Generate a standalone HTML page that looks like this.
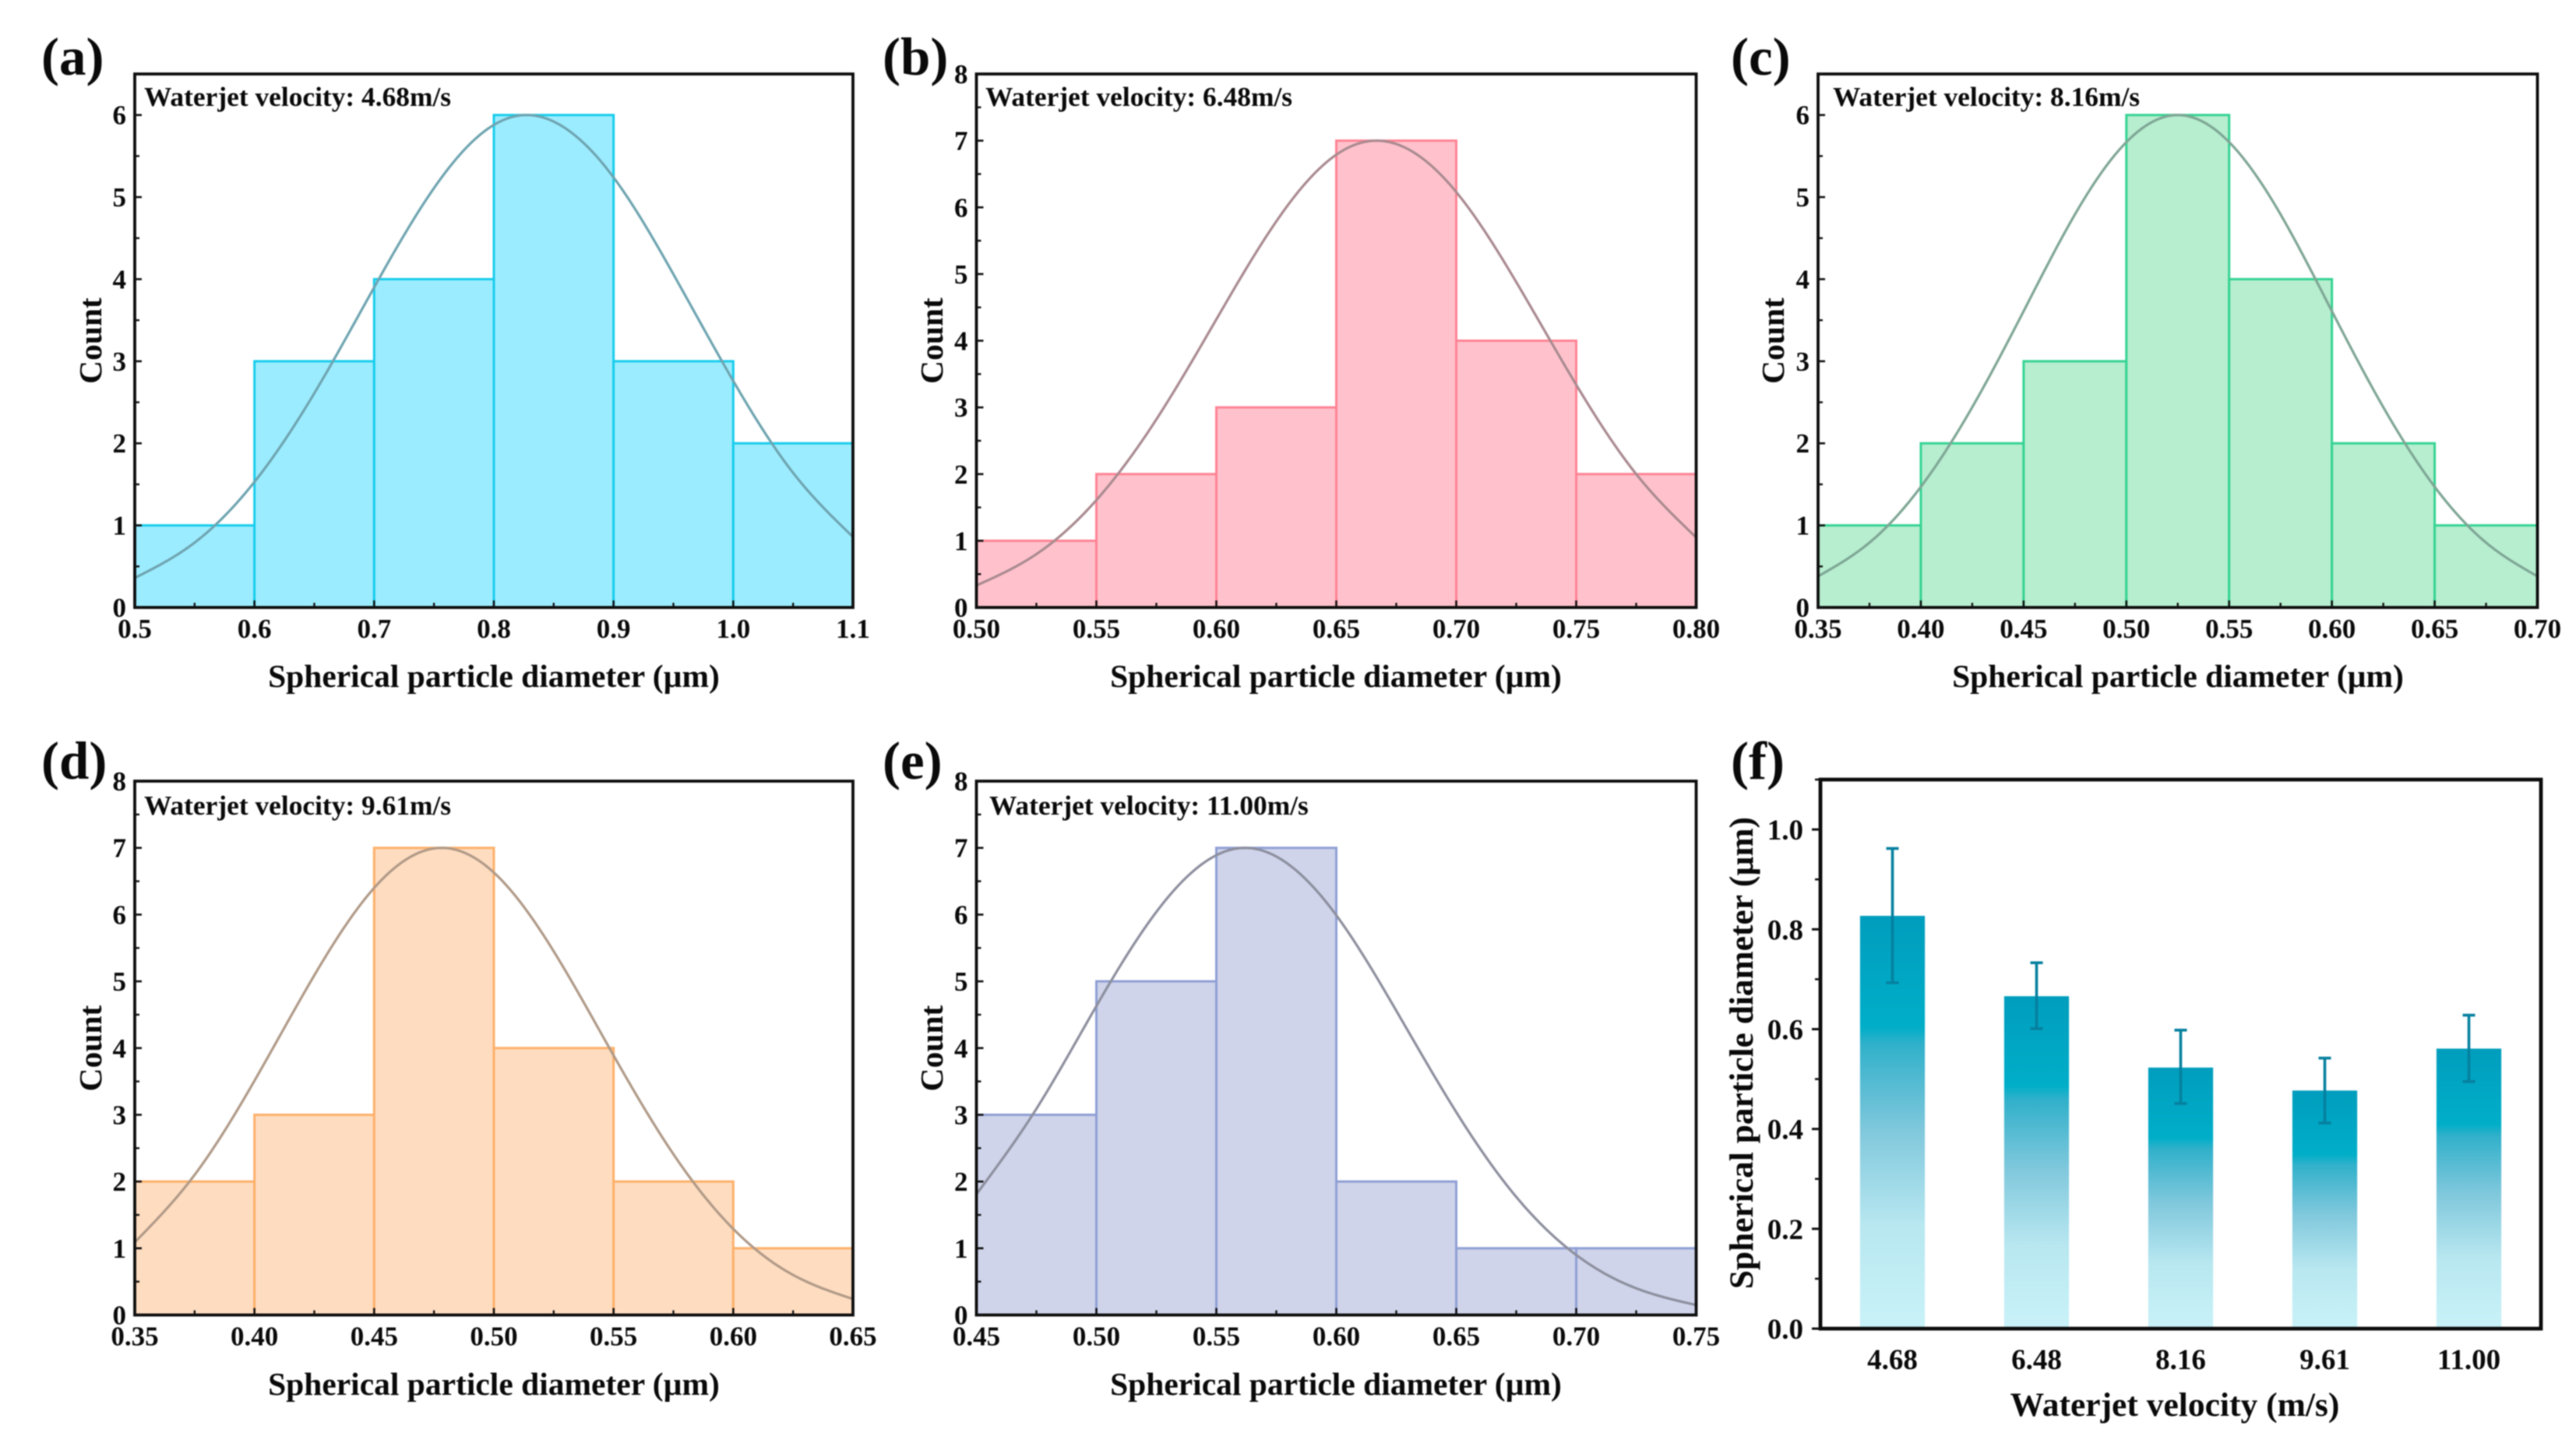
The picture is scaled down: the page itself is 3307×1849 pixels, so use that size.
<!DOCTYPE html>
<html lang="en">
<head>
<meta charset="utf-8">
<title>Spherical particle diameter histograms by waterjet velocity</title>
<style>
  html, body { margin: 0; padding: 0; background: #fff; }
  svg { display: block; filter: blur(0.9px); }
  text { font-family: "Liberation Serif", serif; font-weight: bold; fill: #0a0a0a; }
  .panel-label { font-size: 69px; }
  .axis-title { font-size: 41.5px; text-anchor: middle; }
  .note { font-size: 35.4px; }
  .tick-label { font-size: 35px; }
  .tick-label-f { font-size: 37px; }
</style>
</head>
<body>
<svg id="figure" xmlns="http://www.w3.org/2000/svg" width="3307" height="1849" viewBox="0 0 3307 1849">
  <defs>
    <linearGradient id="barGradient" x1="0" y1="0" x2="0" y2="1">
      <stop offset="0" stop-color="#009dbd"/>
      <stop offset="0.27" stop-color="#00aec8"/>
      <stop offset="0.31" stop-color="#30b0ca"/>
      <stop offset="0.52" stop-color="#80c8dc"/>
      <stop offset="0.75" stop-color="#b8e7f0"/>
      <stop offset="1" stop-color="#c9f2f8"/>
    </linearGradient>
  </defs>

  <g id="panel-a">
    <text class="panel-label" x="53" y="96">(a)</text>
    <text class="note" x="185" y="136">Waterjet velocity: 4.68m/s</text>
    <text class="axis-title" x="634" y="882">Spherical particle diameter (µm)</text>
    <text class="axis-title" transform="translate(130 437.5) rotate(-90)">Count</text>
  </g>
  <g id="panel-b">
    <text class="panel-label" x="1133" y="96">(b)</text>
    <text class="note" x="1265" y="136">Waterjet velocity: 6.48m/s</text>
    <text class="axis-title" x="1715" y="882">Spherical particle diameter (µm)</text>
    <text class="axis-title" transform="translate(1210 437.5) rotate(-90)">Count</text>
  </g>
  <g id="panel-c">
    <text class="panel-label" x="2222" y="96">(c)</text>
    <text class="note" x="2353" y="136">Waterjet velocity: 8.16m/s</text>
    <text class="axis-title" x="2796" y="882">Spherical particle diameter (µm)</text>
    <text class="axis-title" transform="translate(2290 437.5) rotate(-90)">Count</text>
  </g>
  <g id="panel-d">
    <text class="panel-label" x="53" y="1000">(d)</text>
    <text class="note" x="185" y="1046">Waterjet velocity: 9.61m/s</text>
    <text class="axis-title" x="634" y="1791">Spherical particle diameter (µm)</text>
    <text class="axis-title" transform="translate(130 1346) rotate(-90)">Count</text>
  </g>
  <g id="panel-e">
    <text class="panel-label" x="1133" y="1000">(e)</text>
    <text class="note" x="1270" y="1046">Waterjet velocity: 11.00m/s</text>
    <text class="axis-title" x="1715" y="1791">Spherical particle diameter (µm)</text>
    <text class="axis-title" transform="translate(1210 1346) rotate(-90)">Count</text>
  </g>
  <g id="panel-f">
    <text class="panel-label" x="2222" y="1000">(f)</text>
    <text class="axis-title" style="font-size:43.5px" x="2792" y="1818">Waterjet velocity (m/s)</text>
    <text class="axis-title" style="font-size:43.4px" transform="translate(2250 1352) rotate(-90)">Spherical particle diameter (µm)</text>
  </g>
</svg>

<script>
// ---- Panel (a) ----
const aBinEdges = [0.5, 0.6, 0.7, 0.8, 0.9, 1.0, 1.1];
const aCounts = [1, 3, 4, 6, 3, 2];
const aCurveX = [0.5, 0.55, 0.6, 0.65, 0.7, 0.75, 0.8, 0.828, 0.85, 0.9, 0.95, 1.0, 1.05, 1.1];
const aCurveY = [0.36, 0.79, 1.53, 2.61, 3.90, 5.11, 5.88, 6, 5.92, 5.24, 4.06, 2.76, 1.64, 0.86];
const aXLabels = ["0.5", "0.6", "0.7", "0.8", "0.9", "1.0", "1.1"];
const aYLabels = ["0", "1", "2", "3", "4", "5", "6"];

// ---- Panel (b) ----
const bBinEdges = [0.50, 0.55, 0.60, 0.65, 0.70, 0.75, 0.80];
const bCounts = [1, 2, 3, 7, 4, 2];
const bCurveX = [0.5, 0.525, 0.55, 0.575, 0.6, 0.625, 0.65, 0.667, 0.675, 0.7, 0.725, 0.75, 0.775, 0.8];
const bCurveY = [0.33, 0.80, 1.61, 2.82, 4.32, 5.79, 6.79, 7, 6.95, 6.23, 4.88, 3.34, 2.00, 1.05];
const bXLabels = ["0.50", "0.55", "0.60", "0.65", "0.70", "0.75", "0.80"];
const bYLabels = ["0", "1", "2", "3", "4", "5", "6", "7", "8"];

// ---- Panel (c) ----
const cBinEdges = [0.35, 0.40, 0.45, 0.50, 0.55, 0.60, 0.65, 0.70];
const cCounts = [1, 2, 3, 6, 4, 2, 1];
const cCurveX = [0.35, 0.375, 0.4, 0.425, 0.45, 0.475, 0.5, 0.525, 0.55, 0.575, 0.6, 0.625, 0.65, 0.675, 0.7];
const cCurveY = [0.38, 0.79, 1.47, 2.44, 3.61, 4.79, 5.67, 6, 5.67, 4.79, 3.61, 2.44, 1.47, 0.79, 0.38];
const cXLabels = ["0.35", "0.40", "0.45", "0.50", "0.55", "0.60", "0.65", "0.70"];
const cYLabels = ["0", "1", "2", "3", "4", "5", "6"];

// ---- Panel (d) ----
const dBinEdges = [0.35, 0.40, 0.45, 0.50, 0.55, 0.60, 0.65];
const dCounts = [2, 3, 7, 4, 2, 1];
const dCurveX = [0.35, 0.375, 0.4, 0.425, 0.45, 0.478, 0.5, 0.525, 0.55, 0.575, 0.6, 0.625, 0.65];
const dCurveY = [1.09, 2.10, 3.51, 5.09, 6.40, 7, 6.63, 5.45, 3.89, 2.41, 1.29, 0.60, 0.24];
const dXLabels = ["0.35", "0.40", "0.45", "0.50", "0.55", "0.60", "0.65"];
const dYLabels = ["0", "1", "2", "3", "4", "5", "6", "7", "8"];

// ---- Panel (e) ----
const eBinEdges = [0.45, 0.50, 0.55, 0.60, 0.65, 0.70, 0.75];
const eCounts = [3, 5, 7, 2, 1, 1];
const eCurveX = [0.45, 0.475, 0.5, 0.525, 0.55, 0.562, 0.575, 0.6, 0.625, 0.65, 0.675, 0.7, 0.725, 0.75];
const eCurveY = [1.81, 3.09, 4.63, 6.04, 6.89, 7, 6.87, 5.99, 4.56, 3.04, 1.77, 0.90, 0.40, 0.15];
const eXLabels = ["0.45", "0.50", "0.55", "0.60", "0.65", "0.70", "0.75"];
const eYLabels = ["0", "1", "2", "3", "4", "5", "6", "7", "8"];

// ---- Panel (f) ----
const fCategories = ["4.68", "6.48", "8.16", "9.61", "11.00"];
const fMeans = [0.827, 0.666, 0.523, 0.477, 0.561];
const fErrUpper = [0.962, 0.733, 0.598, 0.542, 0.628];
const fErrLower = [0.693, 0.601, 0.451, 0.412, 0.495];
const fYLabels = ["0.0", "0.2", "0.4", "0.6", "0.8", "1.0"];

const SVG_NS = 'http://www.w3.org/2000/svg';
function make(tag, attrs, parent) {
  const el = document.createElementNS(SVG_NS, tag);
  for (const k in attrs) el.setAttribute(k, attrs[k]);
  parent.appendChild(el);
  return el;
}
function linear(d0, d1, r0, r1) {
  return function (v) { return r0 + (v - d0) * (r1 - r0) / (d1 - d0); };
}

// Natural cubic spline through the read curve samples.
function splineSampler(xs, ys) {
  const n = xs.length, h = [], al = [], l = [1], mu = [0], z = [0], c = new Array(n).fill(0), b = [], d = [];
  for (let i = 0; i < n - 1; i++) h.push(xs[i + 1] - xs[i]);
  for (let i = 1; i < n - 1; i++) al[i] = 3 * (ys[i + 1] - ys[i]) / h[i] - 3 * (ys[i] - ys[i - 1]) / h[i - 1];
  for (let i = 1; i < n - 1; i++) {
    l[i] = 2 * (xs[i + 1] - xs[i - 1]) - h[i - 1] * mu[i - 1];
    mu[i] = h[i] / l[i];
    z[i] = (al[i] - h[i - 1] * z[i - 1]) / l[i];
  }
  for (let j = n - 2; j >= 0; j--) {
    c[j] = (j === 0 ? 0 : z[j]) - (j === 0 ? 0 : mu[j]) * c[j + 1];
    b[j] = (ys[j + 1] - ys[j]) / h[j] - h[j] * (c[j + 1] + 2 * c[j]) / 3;
    d[j] = (c[j + 1] - c[j]) / (3 * h[j]);
  }
  return function (x) {
    let i = 0;
    while (i < n - 2 && x > xs[i + 1]) i++;
    const t = x - xs[i];
    return ys[i] + b[i] * t + c[i] * t * t + d[i] * t * t * t;
  };
}

function drawHistogram(p) {
  const g = document.getElementById(p.id);
  const x = linear(p.edges[0], p.edges[p.edges.length - 1], p.left, p.right);
  const y = linear(0, p.yMax, p.bottom, p.top);

  p.counts.forEach(function (count, i) {
    const bar = make('rect', {
      x: x(p.edges[i]), y: y(count),
      width: x(p.edges[i + 1]) - x(p.edges[i]), height: y(0) - y(count),
      fill: p.fill, stroke: p.stroke, 'stroke-width': 3
    }, g);
    
    
  });

  const curveAt = splineSampler(p.curveX, p.curveY);
  const x0 = p.curveX[0], x1 = p.curveX[p.curveX.length - 1];
  let d = '';
  for (let i = 0; i <= 300; i++) {
    const v = x0 + (x1 - x0) * i / 300;
    d += (i ? 'L' : 'M') + x(v).toFixed(2) + ' ' + y(curveAt(v)).toFixed(2);
  }
  const curve = make('path', { d: d, fill: 'none', stroke: p.curveColor, 'stroke-width': 3.2 }, g);
  
  

  const frame = make('rect', {
    x: p.left, y: p.top, width: p.right - p.left, height: p.bottom - p.top,
    fill: 'none', stroke: '#0c0c0c', 'stroke-width': 3.8
  }, g);
  
  

  // x axis ticks (inward) and labels
  p.xLabels.forEach(function (label, i) {
    const v = parseFloat(label);
    const tick = make('line', { x1: x(v), x2: x(v), y1: p.bottom, y2: p.bottom - 9, stroke: '#111', 'stroke-width': 2.6 }, g);
    
    
    if (i < p.xLabels.length - 1) {
      const mid = (v + parseFloat(p.xLabels[i + 1])) / 2;
      const minor = make('line', { x1: x(mid), x2: x(mid), y1: p.bottom, y2: p.bottom - 6, stroke: '#111', 'stroke-width': 2.4 }, g);
      
      
    }
    const t = make('text', { class: 'tick-label', x: x(v), y: p.bottom + 39, 'text-anchor': 'middle' }, g);
    t.textContent = label;
    
    
  });

  // y axis ticks (inward) and labels
  p.yLabels.forEach(function (label) {
    const v = parseFloat(label);
    const tick = make('line', { x1: p.left, x2: p.left + 9, y1: y(v), y2: y(v), stroke: '#111', 'stroke-width': 2.6 }, g);
    
    
    if (v + 0.5 <= p.yMax) {
      const minor = make('line', { x1: p.left, x2: p.left + 6, y1: y(v + 0.5), y2: y(v + 0.5), stroke: '#111', 'stroke-width': 2.4 }, g);
      
      
    }
    const t = make('text', { class: 'tick-label', x: p.left - 11, y: y(v) + 12, 'text-anchor': 'end' }, g);
    t.textContent = label;
    
    
  });
}

drawHistogram({ id: 'panel-a', left: 173, right: 1095, top: 95, bottom: 780, yMax: 6.5,
  edges: aBinEdges, counts: aCounts, curveX: aCurveX, curveY: aCurveY, xLabels: aXLabels, yLabels: aYLabels,
  fill: '#9cecff', stroke: '#17cdec', curveColor: '#6ea4b0' });
drawHistogram({ id: 'panel-b', left: 1253.5, right: 2177.5, top: 95, bottom: 780, yMax: 8,
  edges: bBinEdges, counts: bCounts, curveX: bCurveX, curveY: bCurveY, xLabels: bXLabels, yLabels: bYLabels,
  fill: '#ffc2cc', stroke: '#ff8394', curveColor: '#a98a90' });
drawHistogram({ id: 'panel-c', left: 2334, right: 3257.5, top: 95, bottom: 780, yMax: 6.5,
  edges: cBinEdges, counts: cCounts, curveX: cCurveX, curveY: cCurveY, xLabels: cXLabels, yLabels: cYLabels,
  fill: '#b6eecf', stroke: '#35d393', curveColor: '#7fa695' });
drawHistogram({ id: 'panel-d', left: 173, right: 1095, top: 1003, bottom: 1688.5, yMax: 8,
  edges: dBinEdges, counts: dCounts, curveX: dCurveX, curveY: dCurveY, xLabels: dXLabels, yLabels: dYLabels,
  fill: '#fedcc0', stroke: '#fdb06a', curveColor: '#b09a88' });
drawHistogram({ id: 'panel-e', left: 1253.5, right: 2177.5, top: 1003, bottom: 1688.5, yMax: 8,
  edges: eBinEdges, counts: eCounts, curveX: eCurveX, curveY: eCurveY, xLabels: eXLabels, yLabels: eYLabels,
  fill: '#cfd4ea', stroke: '#8f9fd4', curveColor: '#8d8f9e' });

(function drawBars() {
  const g = document.getElementById('panel-f');
  const left = 2337, right = 3262, top = 1001, bottom = 1706, yMax = 1.1;
  const y = linear(0, yMax, bottom, top);
  const band = (right - left) / fCategories.length;
  const cx = function (i) { return left + band * (i + 0.5); };
  const barWidth = band * 0.45;

  fCategories.forEach(function (label, i) {
    const bar = make('rect', {
      x: cx(i) - barWidth / 2, y: y(fMeans[i]), width: barWidth, height: y(0) - y(fMeans[i]),
      fill: 'url(#barGradient)'
    }, g);
    
    

    const stem = make('line', { x1: cx(i), x2: cx(i), y1: y(fErrUpper[i]), y2: y(fErrLower[i]), stroke: '#06809f', 'stroke-width': 3.6 }, g);
    
    
    const capTop = make('line', { x1: cx(i) - 8, x2: cx(i) + 8, y1: y(fErrUpper[i]), y2: y(fErrUpper[i]), stroke: '#06809f', 'stroke-width': 3.6 }, g);
    
    
    const capLow = make('line', { x1: cx(i) - 8, x2: cx(i) + 8, y1: y(fErrLower[i]), y2: y(fErrLower[i]), stroke: '#06809f', 'stroke-width': 3.6 }, g);
    
    

    const t = make('text', { class: 'tick-label-f', x: cx(i), y: bottom + 52, 'text-anchor': 'middle' }, g);
    t.textContent = label;
    
    
  });

  const frame = make('rect', { x: left, y: top, width: right - left, height: bottom - top, fill: 'none', stroke: '#0c0c0c', 'stroke-width': 4.8 }, g);
  
  

  fYLabels.forEach(function (label) {
    const v = parseFloat(label);
    const tick = make('line', { x1: left - 11, x2: left, y1: y(v), y2: y(v), stroke: '#111', 'stroke-width': 3 }, g);
    
    
    const minor = make('line', { x1: left - 7, x2: left, y1: y(v + 0.1), y2: y(v + 0.1), stroke: '#111', 'stroke-width': 2.6 }, g);
    
    
    const t = make('text', { class: 'tick-label-f', x: left - 22, y: y(v) + 13, 'text-anchor': 'end' }, g);
    t.textContent = label;
    
    
  });
})();
</script>
</body>
</html>
